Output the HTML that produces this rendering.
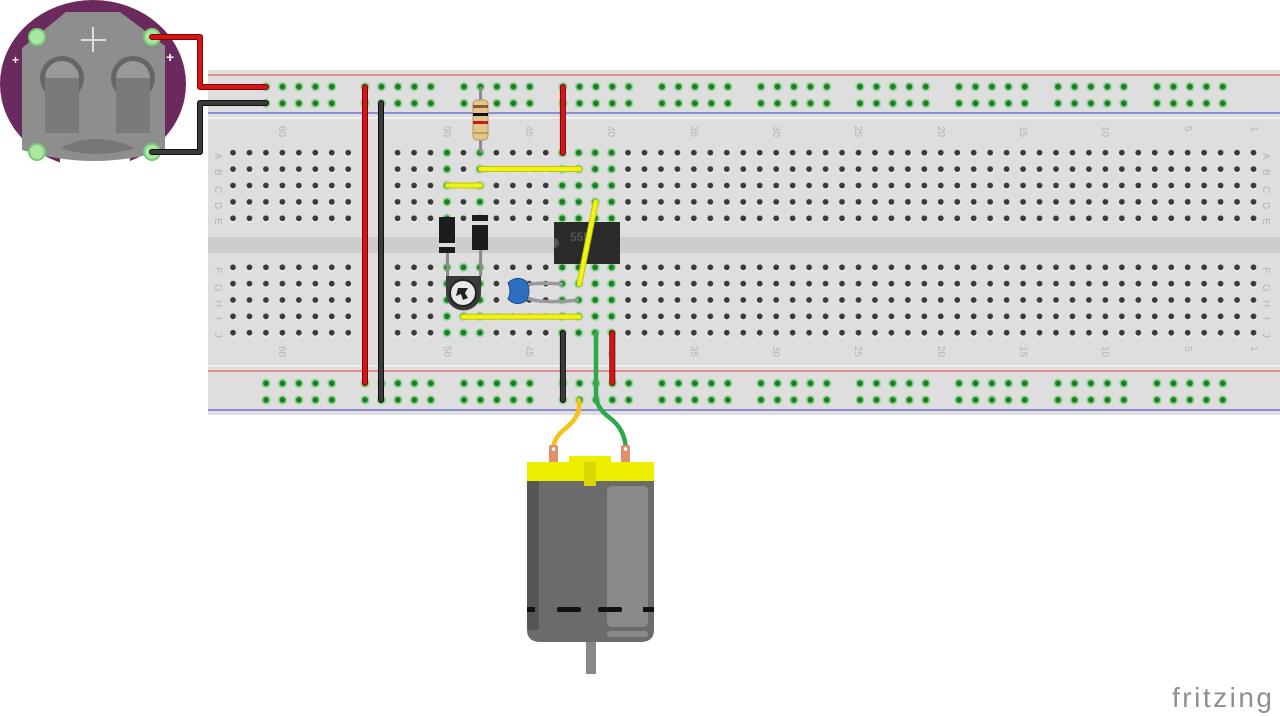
<!DOCTYPE html>
<html><head><meta charset="utf-8"><style>html,body{margin:0;padding:0;background:#fff;width:1280px;height:716px;overflow:hidden}svg{display:block}</style></head><body>
<svg width="1280" height="716" viewBox="0 0 1280 716" xmlns="http://www.w3.org/2000/svg" font-family="Liberation Sans, sans-serif">
<defs>
<pattern id="hA" patternUnits="userSpaceOnUse" x="224.77" y="144.5" width="16.46" height="16.4"><circle cx="8.23" cy="9.2" r="3.3" fill="#f4f4f4"/><circle cx="8.23" cy="8.2" r="2.9" fill="#3a3a3a"/></pattern>
<pattern id="hF" patternUnits="userSpaceOnUse" x="224.77" y="259.1" width="16.46" height="16.35"><circle cx="8.23" cy="9.2" r="3.3" fill="#f4f4f4"/><circle cx="8.23" cy="8.2" r="2.9" fill="#3a3a3a"/></pattern>
<pattern id="gA" patternUnits="userSpaceOnUse" x="224.77" y="144.5" width="16.46" height="16.4"><circle cx="8.23" cy="8.2" r="4.6" fill="#8ed88e"/><circle cx="8.23" cy="8.2" r="2.9" fill="#1f7a2a"/></pattern>
<pattern id="gF" patternUnits="userSpaceOnUse" x="224.77" y="259.1" width="16.46" height="16.35"><circle cx="8.23" cy="8.2" r="4.6" fill="#8ed88e"/><circle cx="8.23" cy="8.2" r="2.9" fill="#1f7a2a"/></pattern>
<pattern id="rl" patternUnits="userSpaceOnUse" x="257.8" y="78.4" width="99" height="16.6"><g fill="#8ed88e"><circle cx="8.2" cy="8.3" r="4.6"/><circle cx="24.7" cy="8.3" r="4.6"/><circle cx="41.1" cy="8.3" r="4.6"/><circle cx="57.6" cy="8.3" r="4.6"/><circle cx="74" cy="8.3" r="4.6"/></g><g fill="#1f7a2a"><circle cx="8.2" cy="8.3" r="2.9"/><circle cx="24.7" cy="8.3" r="2.9"/><circle cx="41.1" cy="8.3" r="2.9"/><circle cx="57.6" cy="8.3" r="2.9"/><circle cx="74" cy="8.3" r="2.9"/></g></pattern>
<pattern id="rl2" patternUnits="userSpaceOnUse" x="257.8" y="375" width="99" height="16.6"><g fill="#8ed88e"><circle cx="8.2" cy="8.3" r="4.6"/><circle cx="24.7" cy="8.3" r="4.6"/><circle cx="41.1" cy="8.3" r="4.6"/><circle cx="57.6" cy="8.3" r="4.6"/><circle cx="74" cy="8.3" r="4.6"/></g><g fill="#1f7a2a"><circle cx="8.2" cy="8.3" r="2.9"/><circle cx="24.7" cy="8.3" r="2.9"/><circle cx="41.1" cy="8.3" r="2.9"/><circle cx="57.6" cy="8.3" r="2.9"/><circle cx="74" cy="8.3" r="2.9"/></g></pattern>
</defs>

<!-- breadboard -->
<rect x="208" y="70" width="1072" height="345" fill="#dedede"/>
<rect x="208" y="117" width="1072" height="2" fill="#eeeeee"/>
<rect x="208" y="365" width="1072" height="2" fill="#eeeeee"/>
<rect x="208" y="237" width="1072" height="16" fill="#cdcdcd"/>
<line x1="208" y1="75" x2="1280" y2="75" stroke="#e07070" stroke-width="1.5"/>
<line x1="208" y1="113" x2="1280" y2="113" stroke="#7070d0" stroke-width="1.5"/>
<line x1="208" y1="371" x2="1280" y2="371" stroke="#e07070" stroke-width="1.5"/>
<line x1="208" y1="410" x2="1280" y2="410" stroke="#7070d0" stroke-width="1.5"/>
<rect x="257.8" y="78.4" width="990" height="33.2" fill="url(#rl)"/>
<rect x="257.8" y="375" width="990" height="33.2" fill="url(#rl2)"/>
<!-- main holes -->
<rect x="224.77" y="144.5" width="131.7" height="82" fill="url(#hA)"/>
<rect x="389.4" y="144.5" width="872" height="82" fill="url(#hA)"/>
<rect x="224.77" y="259.1" width="131.7" height="81.8" fill="url(#hF)"/>
<rect x="389.4" y="259.1" width="872" height="81.8" fill="url(#hF)"/>
<!-- green columns -->
<rect x="439.3" y="144.5" width="16.46" height="82" fill="url(#gA)"/>
<rect x="472.3" y="144.5" width="16.46" height="82" fill="url(#gA)"/>
<rect x="554.6" y="144.5" width="65.8" height="82" fill="url(#gA)"/>
<rect x="439.3" y="259.1" width="49.4" height="81.8" fill="url(#gF)"/>
<rect x="554.6" y="259.1" width="65.8" height="81.8" fill="url(#gF)"/>

<!-- labels -->
<g fill="#b4b4b4" font-size="10">
<g transform="translate(218,153) rotate(90)"><text x="0" y="3">A</text></g>
<g transform="translate(218,169) rotate(90)"><text x="0" y="3">B</text></g>
<g transform="translate(218,186) rotate(90)"><text x="0" y="3">C</text></g>
<g transform="translate(218,202) rotate(90)"><text x="0" y="3">D</text></g>
<g transform="translate(218,218) rotate(90)"><text x="0" y="3">E</text></g>
<g transform="translate(218,267) rotate(90)"><text x="0" y="3">F</text></g>
<g transform="translate(218,284) rotate(90)"><text x="0" y="3">G</text></g>
<g transform="translate(218,300) rotate(90)"><text x="0" y="3">H</text></g>
<g transform="translate(218,317) rotate(90)"><text x="0" y="3">I</text></g>
<g transform="translate(218,333) rotate(90)"><text x="0" y="3">J</text></g>
<g transform="translate(1266,153) rotate(90)"><text x="0" y="3">A</text></g>
<g transform="translate(1266,169) rotate(90)"><text x="0" y="3">B</text></g>
<g transform="translate(1266,186) rotate(90)"><text x="0" y="3">C</text></g>
<g transform="translate(1266,202) rotate(90)"><text x="0" y="3">D</text></g>
<g transform="translate(1266,218) rotate(90)"><text x="0" y="3">E</text></g>
<g transform="translate(1266,267) rotate(90)"><text x="0" y="3">F</text></g>
<g transform="translate(1266,284) rotate(90)"><text x="0" y="3">G</text></g>
<g transform="translate(1266,300) rotate(90)"><text x="0" y="3">H</text></g>
<g transform="translate(1266,317) rotate(90)"><text x="0" y="3">I</text></g>
<g transform="translate(1266,333) rotate(90)"><text x="0" y="3">J</text></g>
<g transform="translate(279,126) rotate(90)"><text>60</text></g>
<g transform="translate(444,126) rotate(90)"><text>50</text></g>
<g transform="translate(526,126) rotate(90)"><text>45</text></g>
<g transform="translate(608,126) rotate(90)"><text>40</text></g>
<g transform="translate(691,126) rotate(90)"><text>35</text></g>
<g transform="translate(773,126) rotate(90)"><text>30</text></g>
<g transform="translate(855,126) rotate(90)"><text>25</text></g>
<g transform="translate(938,126) rotate(90)"><text>20</text></g>
<g transform="translate(1020,126) rotate(90)"><text>15</text></g>
<g transform="translate(1102,126) rotate(90)"><text>10</text></g>
<g transform="translate(1185,126) rotate(90)"><text>5</text></g>
<g transform="translate(1251,126) rotate(90)"><text>1</text></g>
<g transform="translate(279,346) rotate(90)"><text>60</text></g>
<g transform="translate(444,346) rotate(90)"><text>50</text></g>
<g transform="translate(526,346) rotate(90)"><text>45</text></g>
<g transform="translate(608,346) rotate(90)"><text>40</text></g>
<g transform="translate(691,346) rotate(90)"><text>35</text></g>
<g transform="translate(773,346) rotate(90)"><text>30</text></g>
<g transform="translate(855,346) rotate(90)"><text>25</text></g>
<g transform="translate(938,346) rotate(90)"><text>20</text></g>
<g transform="translate(1020,346) rotate(90)"><text>15</text></g>
<g transform="translate(1102,346) rotate(90)"><text>10</text></g>
<g transform="translate(1185,346) rotate(90)"><text>5</text></g>
<g transform="translate(1251,346) rotate(90)"><text>1</text></g>
</g>

<!-- long power wires -->
<line x1="365" y1="87" x2="365" y2="383" stroke="#8a0000" stroke-width="6" stroke-linecap="round"/>
<line x1="365" y1="87" x2="365" y2="383" stroke="#d01818" stroke-width="4" stroke-linecap="round"/>
<line x1="381" y1="103" x2="381" y2="400" stroke="#111" stroke-width="6" stroke-linecap="round"/>
<line x1="381" y1="103" x2="381" y2="400" stroke="#3a3a3a" stroke-width="4" stroke-linecap="round"/>

<!-- resistor -->
<line x1="480.6" y1="87" x2="480.6" y2="153" stroke="#8a8a8a" stroke-width="3"/>
<rect x="473" y="100" width="15" height="40" rx="4" fill="#e2c48e" stroke="#b8985e"/>
<rect x="473" y="105" width="15" height="3" fill="#8b5a2b"/>
<rect x="473" y="113" width="15" height="3" fill="#111"/>
<rect x="473" y="121" width="15" height="3" fill="#c41a1a"/>
<rect x="473" y="132" width="15" height="2" fill="#c9a04a"/>

<!-- short red top -->
<line x1="562.9" y1="87" x2="562.9" y2="153" stroke="#8a0000" stroke-width="6" stroke-linecap="round"/>
<line x1="562.9" y1="87" x2="562.9" y2="153" stroke="#d01818" stroke-width="4" stroke-linecap="round"/>

<!-- yellow jumpers -->
<g stroke-linecap="round">
<line x1="480.6" y1="169" x2="579.3" y2="169" stroke="#b8c800" stroke-width="6"/>
<line x1="480.6" y1="169" x2="579.3" y2="169" stroke="#f2f21a" stroke-width="4"/>
<line x1="447.5" y1="185.5" x2="480.6" y2="185.5" stroke="#b8c800" stroke-width="6"/>
<line x1="447.5" y1="185.5" x2="480.6" y2="185.5" stroke="#f2f21a" stroke-width="4"/>
</g>

<!-- diodes -->
<rect x="439" y="217" width="16" height="36" fill="#1c1c1c"/>
<rect x="439" y="243" width="16" height="4" fill="#ddd"/>
<rect x="472" y="215" width="16" height="35" fill="#1c1c1c"/>
<rect x="472" y="221" width="16" height="4" fill="#ddd"/>
<line x1="447.5" y1="253" x2="447.5" y2="267" stroke="#8a8a8a" stroke-width="3"/>
<line x1="480.6" y1="250" x2="480.6" y2="267" stroke="#8a8a8a" stroke-width="3"/>

<!-- 555 -->
<rect x="554" y="222" width="66" height="42" fill="#2a2a2a"/>
<path d="M554 238 a5 5 0 0 1 0 10z" fill="#555"/>
<text x="570" y="241" font-size="12" font-weight="bold" fill="#555">555</text>

<!-- pot -->
<path d="M446 276 h35 v17 a17.5 17.5 0 0 1 -35 0z" fill="#3a3a3a"/>
<circle cx="463" cy="293" r="13" fill="#e8e8e8" stroke="#222" stroke-width="2"/>
<path d="M458 288 l10 0 l-3 5 l3 5 l-5 2 l-2 -6 l-5 2z" fill="#222"/>
<line x1="447.5" y1="267" x2="447.5" y2="276" stroke="#8a8a8a" stroke-width="3"/>
<line x1="480.6" y1="267" x2="480.6" y2="276" stroke="#8a8a8a" stroke-width="3"/>

<!-- capacitor -->
<path d="M527 285 q10 -3 36 -1" fill="none" stroke="#999" stroke-width="3.5"/>
<path d="M527 298 q14 6 52 2" fill="none" stroke="#999" stroke-width="3.5"/>
<path d="M508 283 q8 -8 18 -2 q6 10 0 20 q-10 6 -18 -2 q4 -8 0 -16z" fill="#2d6fbf" stroke="#1d4f8f"/>

<!-- yellow diag and row I -->
<g stroke-linecap="round">
<line x1="595.8" y1="202" x2="579.3" y2="284" stroke="#b8c800" stroke-width="6"/>
<line x1="595.8" y1="202" x2="579.3" y2="284" stroke="#f2f21a" stroke-width="4"/>
<line x1="463" y1="316.7" x2="579.3" y2="316.7" stroke="#b8c800" stroke-width="6"/>
<line x1="463" y1="316.7" x2="579.3" y2="316.7" stroke="#f2f21a" stroke-width="4"/>
</g>

<!-- bottom wires -->
<line x1="562.9" y1="333" x2="562.9" y2="400" stroke="#111" stroke-width="6" stroke-linecap="round"/>
<line x1="562.9" y1="333" x2="562.9" y2="400" stroke="#3a3a3a" stroke-width="4" stroke-linecap="round"/>
<line x1="612.3" y1="333" x2="612.3" y2="383" stroke="#8a0000" stroke-width="6" stroke-linecap="round"/>
<line x1="612.3" y1="333" x2="612.3" y2="383" stroke="#d01818" stroke-width="4" stroke-linecap="round"/>
<path d="M596 333 V395 Q596 408 610 418 Q626 430 626 452" fill="none" stroke="#2ea84a" stroke-width="4.5" stroke-linecap="round"/>
<path d="M579 400 V408 Q578 418 566 428 Q553 438 553 450" fill="none" stroke="#f5c21a" stroke-width="4.5" stroke-linecap="round"/>

<!-- motor -->
<rect x="549" y="445" width="9" height="22" rx="2" fill="#e0906a"/>
<rect x="621" y="445" width="9" height="22" rx="2" fill="#e0906a"/>
<circle cx="553.5" cy="449" r="1.8" fill="#fff"/><circle cx="625.5" cy="449" r="1.8" fill="#fff"/>
<rect x="586" y="636" width="10" height="38" fill="#888"/>
<path d="M527 480 H654 V630 Q654 642 640 642 H541 Q527 642 527 630z" fill="#6b6b6b"/>
<rect x="527" y="480" width="12" height="150" fill="#555"/>
<rect x="607" y="486" width="41" height="141" rx="5" fill="#8a8a8a"/>
<rect x="607" y="631" width="41" height="6" rx="3" fill="#8a8a8a"/>
<rect x="527" y="607" width="8" height="5" fill="#111"/>
<rect x="557" y="607" width="24" height="5" rx="2" fill="#111"/>
<rect x="598" y="607" width="24" height="5" rx="2" fill="#111"/>
<rect x="643" y="607" width="11" height="5" fill="#111"/>
<rect x="527" y="462" width="127" height="19" fill="#eeee00"/>
<rect x="569" y="456" width="42" height="8" fill="#eeee00"/>
<rect x="584" y="462" width="12" height="24" fill="#d8d800"/>

<!-- battery holder -->
<ellipse cx="93" cy="84" rx="93" ry="84" fill="#6b2a5e"/>
<rect x="60" y="156" width="70" height="14" fill="#fff"/>
<path d="M66 12 H120 L165 46 V150 Q95 172 22 150 V48z" fill="#8e8e8e"/>
<path d="M60 148 Q95 130 135 148 Q95 160 60 148z" fill="#777"/>
<circle cx="62" cy="78" r="22" fill="#666"/>
<circle cx="133" cy="78" r="22" fill="#666"/>
<rect x="45" y="78" width="34" height="55" fill="#7a7a7a"/>
<rect x="116" y="78" width="34" height="55" fill="#7a7a7a"/>
<path d="M45 78 a17 17 0 0 1 34 0z" fill="#999"/>
<path d="M116 78 a17 17 0 0 1 34 0z" fill="#999"/>
<line x1="93" y1="27" x2="93" y2="52" stroke="#ddd" stroke-width="2"/>
<line x1="81" y1="40" x2="106" y2="40" stroke="#ddd" stroke-width="2"/>
<text x="166" y="62" font-size="14" font-weight="bold" fill="#fff">+</text>
<text x="166" y="141" font-size="14" font-weight="bold" fill="#fff">−</text>
<text x="12" y="64" font-size="12" font-weight="bold" fill="#eee">+</text>
<text x="12" y="138" font-size="12" font-weight="bold" fill="#eee">−</text>
<circle cx="37" cy="37" r="8" fill="#a8e8a0" stroke="#7cc878" stroke-width="2"/>
<circle cx="37" cy="152" r="8" fill="#a8e8a0" stroke="#7cc878" stroke-width="2"/>
<circle cx="152" cy="37" r="8" fill="#a8e8a0" stroke="#7cc878" stroke-width="2"/>
<circle cx="152" cy="152" r="8" fill="#a8e8a0" stroke="#7cc878" stroke-width="2"/>
<path d="M152 37 H200 V87 H266" fill="none" stroke="#8a0000" stroke-width="6" stroke-linejoin="round" stroke-linecap="round"/>
<path d="M152 37 H200 V87 H266" fill="none" stroke="#d01818" stroke-width="4" stroke-linejoin="round" stroke-linecap="round"/>
<path d="M152 152 H200 V103 H266" fill="none" stroke="#111" stroke-width="6" stroke-linejoin="round" stroke-linecap="round"/>
<path d="M152 152 H200 V103 H266" fill="none" stroke="#3a3a3a" stroke-width="4" stroke-linejoin="round" stroke-linecap="round"/>

<text x="1172" y="707" font-size="28" fill="#8f8f8f" letter-spacing="2.5">fritzing</text>
</svg>
</body></html>
